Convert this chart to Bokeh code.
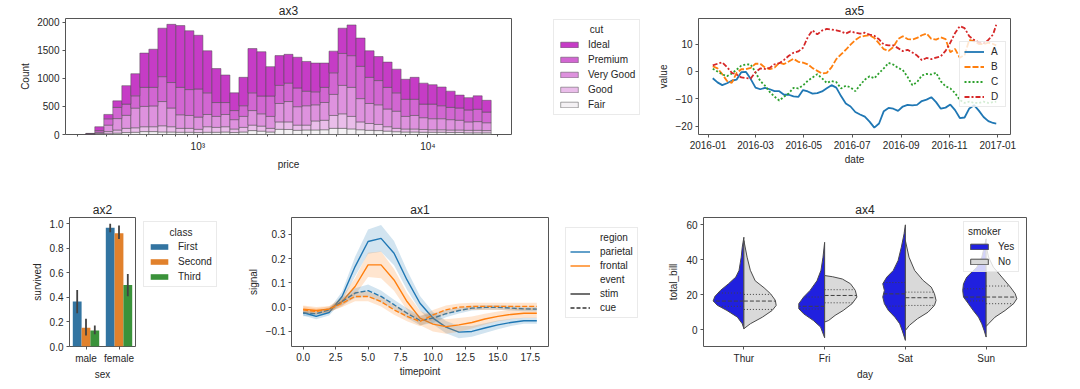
import numpy as np
import pandas as pd
from bokeh.plotting import figure
from bokeh.layouts import row, column
from bokeh.models import (Range1d, FixedTicker, CustomJSTickFormatter, Legend, LegendItem,
                          Label, DatetimeTickFormatter)
from bokeh.embed import file_html
from bokeh.resources import INLINE

FONT = "Liberation Sans"
TXT = "#262626"
SPINE = "#555555"

# ---------------- ax3 : diamonds price histogram (stacked by cut) ----------------
PRICE_MIN, PRICE_MAX, N_BINS = 326, 18823, 45
fair = [3, 8, 15, 25, 35, 40, 52, 52, 46, 45, 40, 40, 35, 40, 40, 45, 35, 45, 70, 60,
        45, 93, 90, 75, 81, 81, 85, 110, 110, 100, 85, 75, 70, 60, 50, 45, 45, 40, 40, 40,
        35, 35, 30, 30, 30]
good = [3, 12, 37, 55, 75, 80, 87, 87, 110, 94, 70, 70, 58, 99, 87, 94, 63, 82, 97, 90,
        65, 132, 135, 92, 86, 161, 169, 230, 259, 223, 140, 121, 109, 79, 60, 53, 53, 50, 45, 45,
        45, 45, 45, 45, 40]
very_good = [4, 20, 115, 204, 232, 350, 362, 371, 432, 334, 242, 230, 218, 218, 196, 218, 167, 196, 260, 219,
             213, 328, 363, 329, 346, 288, 317, 375, 507, 518, 415, 357, 351, 316, 305, 225, 242, 210, 197, 197,
             185, 174, 150, 155, 140]
premium = [5, 30, 113, 200, 200, 220, 340, 331, 444, 454, 489, 461, 501, 386, 247, 213, 162, 190, 316, 317,
           363, 323, 328, 334, 259, 231, 270, 385, 570, 565, 576, 467, 432, 386, 328, 305, 288, 242, 260, 231,
           219, 219, 213, 220, 190]
ideal = [5, 68, 78, 116, 329, 394, 611, 680, 864, 1038, 1102, 1049, 958, 750, 606, 491, 316, 507, 790, 790,
         524, 531, 514, 548, 531, 513, 433, 387, 450, 548, 504, 473, 428, 450, 422, 357, 392, 374, 346, 334,
         289, 230, 219, 240, 210]
CUTS = ["Ideal", "Premium", "Very Good", "Good", "Fair"]
CUT_COLORS = {"Ideal": "#c63cc6", "Premium": "#d266d2", "Very Good": "#de92de",
              "Good": "#eabdea", "Fair": "#f4f1f4"}

# ---------------- ax5 : four smoothed random walks (day offsets from 2016-01-01) ----------------
DAYS = [6, 12, 18, 24, 30, 36, 42, 48, 54, 60, 66, 72, 78, 84, 90, 96, 102, 108, 114, 120,
        126, 132, 138, 144, 150, 156, 162, 168, 174, 180, 186, 192, 198, 204, 210, 216, 222, 228, 234, 240,
        246, 252, 258, 264, 270, 276, 282, 288, 294, 300, 306, 312, 318, 324, 330, 336, 342, 348, 354, 360,
        364]
A = [-2.5, -4.0, -5.0, -4.3, -3.4, -3.0, -0.3, -0.2, -2.8, -5.9,
     -6.5, -6.0, -6.5, -7.2, -7.2, -8.5, -8.5, -9.1, -9.3, -6.8,
     -7.3, -8.1, -7.9, -7.3, -6.1, -5.0, -5.9, -9.0, -11.7, -12.8,
     -14.8, -15.7, -16.5, -18.3, -20.5, -19.0, -14.5, -13.3, -13.6, -14.4,
     -12.8, -12.2, -12.4, -12.2, -10.8, -10.3, -9.4, -11.2, -13.6, -13.2,
     -12.1, -14.1, -17.0, -16.8, -13.5, -12.3, -14.3, -16.6, -18.1, -18.8,
     -19.0]
B = [1.9, 1.1, -1.0, -3.5, -4.2, -0.6, 0.8, 0.8, 1.3, 2.8,
     2.8, 1.4, 0.8, 1.4, 3.1, 2.7, 3.6, 4.6, 3.5, 3.2,
     2.6, 1.2, 0.2, -0.8, -0.5, 1.5, 4.5, 6.2, 7.9, 9.8,
     11.4, 12.6, 13.0, 13.2, 12.2, 10.2, 8.1, 7.5, 8.9, 11.8,
     12.8, 11.8, 11.6, 12.2, 13.2, 13.8, 11.9, 11.6, 12.4, 11.8,
     7.0, 8.2, 5.0, 6.0, 11.5, 11.0, 10.0, 10.0, 10.5, 10.0,
     9.5]
C = [1.0, 0.0, -1.1, -1.7, -0.8, 0.6, 2.1, 2.6, 2.5, -0.3,
     -3.5, -5.2, -7.5, -9.2, -10.6, -9.2, -8.0, -6.0, -6.2, -5.1,
     -3.4, -2.2, -1.0, -2.5, -4.2, -3.5, -3.9, -6.2, -5.2, -5.8,
     -7.2, -5.0, -3.0, -1.8, -2.5, -0.6, 1.1, 3.1, 2.5, 1.3,
     0.5, -2.0, -5.0, -3.9, -1.5, -0.9, -1.1, -0.5, -3.6, -5.4,
     -6.2, -7.9, -10.4, -11.5, -11.0, -11.5, -11.5, -11.0, -11.5, -11.2,
     -11.0]
D = [2.2, 2.8, 3.3, 1.6, -0.5, -1.1, -2.2, -2.4, -2.6, -0.2,
     1.1, 0.9, 1.3, 2.6, 3.0, 4.2, 5.7, 6.8, 7.3, 8.6,
     12.5, 15.0, 13.5, 14.9, 15.5, 15.3, 15.0, 14.6, 13.8, 14.6,
     14.1, 13.8, 14.1, 13.4, 13.0, 11.7, 9.8, 9.5, 9.5, 8.5,
     7.4, 7.9, 6.9, 5.8, 4.1, 4.9, 4.5, 5.0, 5.5, 7.5,
     10.5, 14.0, 16.5, 15.8, 12.8, 11.5, 10.6, 10.3, 11.5, 13.5,
     17.0]
DATE_TICKS = ["2016-01-01", "2016-03-01", "2016-05-01", "2016-07-01", "2016-09-01", "2016-11-01", "2017-01-01"]

# ---------------- ax2 : titanic survival ----------------
SEX = ["male", "female"]
CLASSES = ["First", "Second", "Third"]
surv_first = [0.367, 0.966]
surv_second = [0.152, 0.922]
surv_third = [0.131, 0.500]
ci_first = [(0.27, 0.46), (0.93, 1.0)]
ci_second = [(0.09, 0.225), (0.875, 0.985)]
ci_third = [(0.10, 0.17), (0.41, 0.59)]
CLASS_COLORS = ["#3274a1", "#e1812c", "#3a923a"]

# ---------------- ax1 : fmri signal ----------------
TIMEPOINTS = list(range(19))
parietal_stim = [-0.022, -0.038, -0.022, 0.044, 0.167, 0.270, 0.283, 0.222, 0.112, 0.016, -0.045, -0.082,
                 -0.103, -0.100, -0.086, -0.073, -0.063, -0.056, -0.056]
frontal_stim = [-0.008, -0.014, -0.008, 0.023, 0.085, 0.174, 0.174, 0.112, 0.023, -0.045, -0.070, -0.080,
                -0.073, -0.063, -0.049, -0.038, -0.030, -0.025, -0.025]
parietal_cue = [-0.025, -0.027, -0.011, 0.023, 0.058, 0.068, 0.044, 0.010, -0.025, -0.055, -0.045, -0.027,
                -0.014, -0.004, -0.001, -0.001, -0.004, -0.007, -0.008]
frontal_cue = [-0.011, -0.018, -0.008, 0.016, 0.044, 0.044, 0.023, -0.011, -0.038, -0.059, -0.032, -0.011,
               0.000, 0.003, 0.003, 0.003, 0.003, 0.003, 0.003]
parietal_stim_ci = [0.012, 0.012, 0.012, 0.02, 0.04, 0.05, 0.055, 0.05, 0.04, 0.03, 0.025, 0.025, 0.025,
                    0.022, 0.02, 0.018, 0.015, 0.012, 0.012]
frontal_stim_ci = [0.015, 0.015, 0.012, 0.02, 0.035, 0.05, 0.055, 0.045, 0.035, 0.03, 0.03, 0.03, 0.028,
                   0.025, 0.022, 0.02, 0.02, 0.02, 0.02]
parietal_cue_ci = [0.012, 0.01, 0.01, 0.015, 0.02, 0.025, 0.025, 0.02, 0.02, 0.02, 0.02, 0.015, 0.012,
                   0.01, 0.01, 0.01, 0.01, 0.01, 0.01]
frontal_cue_ci = [0.015, 0.012, 0.012, 0.015, 0.02, 0.02, 0.02, 0.02, 0.02, 0.02, 0.02, 0.018, 0.015,
                  0.015, 0.015, 0.015, 0.015, 0.015, 0.015]

# ---------------- ax4 : tips split violins ----------------
DAYS_CAT = ["Thur", "Fri", "Sat", "Sun"]
thur_yes_y = [0.6, 3.4, 7.2, 11.0, 14.0, 16.5, 19.0, 22.5, 26.3, 30.1, 33.9, 41.5, 47.2, 52.9]
thur_yes_w = [0.0, 0.02, 0.08, 0.21, 0.33, 0.38, 0.36, 0.29, 0.19, 0.10, 0.06, 0.033, 0.02, 0.0]
thur_no_y = [0.6, 3.4, 7.2, 11.0, 13.9, 16.8, 20.6, 24.0, 28.0, 34.0, 41.5, 51.0]
thur_no_w = [0.0, 0.08, 0.23, 0.35, 0.40, 0.39, 0.33, 0.25, 0.14, 0.08, 0.04, 0.0]
fri_yes_y = [-4.6, 1.5, 5.3, 9.1, 12.0, 14.9, 18.7, 22.5, 28.0, 34.0, 41.5, 50.0]
fri_yes_w = [0.0, 0.05, 0.14, 0.26, 0.32, 0.32, 0.26, 0.18, 0.095, 0.045, 0.02, 0.0]
fri_no_y = [4.4, 5.3, 8.2, 11.0, 14.9, 18.7, 22.5, 26.3, 29.0, 30.3, 31.0]
fri_no_w = [0.0, 0.05, 0.13, 0.23, 0.34, 0.40, 0.38, 0.32, 0.22, 0.10, 0.0]
sat_yes_y = [-6.1, -0.4, 3.4, 7.2, 11.0, 14.9, 18.7, 22.5, 26.3, 30.1, 33.9, 39.6, 47.2, 54.9, 60.0]
sat_yes_w = [0.0, 0.04, 0.07, 0.13, 0.21, 0.26, 0.28, 0.26, 0.28, 0.23, 0.15, 0.09, 0.05, 0.016, 0.0]
sat_no_y = [-0.4, 2.5, 6.3, 10.0, 13.9, 16.8, 20.6, 24.4, 28.2, 33.9, 41.5, 51.0]
sat_no_w = [0.0, 0.05, 0.15, 0.28, 0.36, 0.38, 0.36, 0.32, 0.22, 0.115, 0.045, 0.0]
sun_yes_y = [-4.2, -0.4, 3.4, 7.2, 11.0, 14.9, 18.7, 22.5, 26.3, 30.1, 35.8, 41.5, 47.0, 52.0]
sun_yes_w = [0.0, 0.025, 0.054, 0.095, 0.16, 0.22, 0.28, 0.29, 0.28, 0.24, 0.115, 0.054, 0.025, 0.0]
sun_no_y = [1.9, 3.4, 7.2, 11.0, 14.9, 17.7, 20.6, 24.4, 30.1, 35.8, 41.5, 48.0]
sun_no_w = [0.0, 0.03, 0.11, 0.235, 0.34, 0.38, 0.36, 0.30, 0.195, 0.09, 0.03, 0.0]
thur_yes_q = [13.4, 16.4, 21.0]
thur_no_q = [11.6, 16.4, 20.2]
fri_yes_q = [11.8, 13.4, 18.7]
fri_no_q = [15.4, 19.6, 22.9]
sat_yes_q = [13.5, 20.5, 27.0]
sat_no_q = [13.9, 18.3, 21.5]
sun_yes_q = [16.5, 18.7, 23.4]
sun_no_q = [14.9, 18.7, 25.0]
SMOKER_COLORS = {"Yes": "#2020df", "No": "#d9d9d9"}


# ---------------- helpers ----------------
def make_fig(w, h, left, right, top, bottom, title, **kw):
    p = figure(width=w, height=h, min_border_left=left, min_border_right=right,
               min_border_top=top, min_border_bottom=bottom, title=title,
               output_backend="svg", toolbar_location=None, **kw)
    p.title.align = "center"
    p.title.text_font = FONT
    p.title.text_font_size = "12px"
    p.title.text_font_style = "normal"
    p.title.text_color = TXT
    p.title.standoff = 2
    p.outline_line_color = SPINE
    p.outline_line_width = 1
    p.xgrid.visible = False
    p.ygrid.visible = False
    p.border_fill_color = "white"
    p.background_fill_color = "white"
    for ax in (p.xaxis[0], p.yaxis[0]):
        ax.axis_line_color = None
        ax.major_tick_line_color = SPINE
        ax.major_tick_line_width = 1
        ax.major_tick_out = 3
        ax.major_tick_in = 0
        ax.minor_tick_line_color = None
        ax.major_label_text_font = FONT
        ax.major_label_text_font_size = "10px"
        ax.major_label_text_color = TXT
        ax.major_label_standoff = 3
        ax.axis_label_text_font = FONT
        ax.axis_label_text_font_size = "10px"
        ax.axis_label_text_font_style = "normal"
        ax.axis_label_text_color = TXT
        ax.axis_label_standoff = 4
    return p


def legend_fig(w, h):
    # a plain panel that only carries a legend (its frame is aligned with its neighbours)
    p = figure(width=w, height=h, x_range=Range1d(0, 1), y_range=Range1d(0, 1),
               min_border_left=0, min_border_right=0, min_border_top=0, min_border_bottom=0,
               x_axis_location=None, y_axis_location=None,
               output_backend="svg", toolbar_location=None)
    p.outline_line_color = None
    p.xgrid.visible = False
    p.ygrid.visible = False
    p.border_fill_color = "white"
    p.background_fill_color = "white"
    return p


def make_legend(items, x, y, glyph_w=22, glyph_h=7, spacing=4, title=None, standoff=8,
                hide_title=True, bg_alpha=0.0):
    leg = Legend(items=items, location=(x, y), orientation="vertical",
                 label_text_font=FONT, label_text_font_size="10px", label_text_color=TXT,
                 glyph_width=glyph_w, glyph_height=glyph_h, label_standoff=standoff,
                 label_height=10, label_width=10, spacing=spacing, padding=4, margin=0,
                 border_line_color="#d6d6d6", border_line_width=1,
                 background_fill_color="white", background_fill_alpha=bg_alpha)
    if title:
        leg.title = title
        leg.title_text_font = FONT
        leg.title_text_font_size = "10px"
        leg.title_text_font_style = "normal"
        leg.title_text_color = TXT
        leg.title_text_alpha = 0 if hide_title else 1
        leg.title_standoff = 4
    return leg


def legend_title(p, text, x, y):
    p.add_layout(Label(x=x, y=y, x_units="screen", y_units="screen", text=text,
                       text_align="center", text_baseline="middle", text_font=FONT,
                       text_font_size="10px", text_color=TXT))


def num_fmt(dec):
    return CustomJSTickFormatter(code="return tick.toFixed(%d).replace('-', '\\u2212');" % dec)


H1, H2 = 183, 206
# legend keys live outside the 0..1 view of the legend panels (only their styles are used)
KX, KY = [2.0, 3.0], [2.0, 2.0]

# ================= ax3 =================
p3 = make_fig(541, H1, 65, 30, 0, 48, "ax3", x_axis_type="log",
              x_range=Range1d(10 ** 2.425, 10 ** 4.363), y_range=Range1d(0, 2069))
edges = np.logspace(np.log10(PRICE_MIN), np.log10(PRICE_MAX), N_BINS + 1)
counts = {"Fair": fair, "Good": good, "Very Good": very_good, "Premium": premium, "Ideal": ideal}
base = np.zeros(N_BINS)
for cut in ["Fair", "Good", "Very Good", "Premium", "Ideal"]:
    c = np.array(counts[cut], dtype=float)
    p3.quad(left=edges[:-1], right=edges[1:], bottom=base, top=base + c,
            fill_color=CUT_COLORS[cut], line_color="#4d4d4d", line_width=0.5)
    base = base + c
minor = [m * 10 ** e for e in (2, 3, 4) for m in range(2, 10) if 262 < m * 10 ** e < 23000]
p3.xaxis[0].ticker = FixedTicker(ticks=[1000, 10000], minor_ticks=minor)
p3.xaxis[0].minor_tick_line_color = SPINE
p3.xaxis[0].minor_tick_out = 2
p3.xaxis[0].minor_tick_in = 0
p3.xaxis[0].formatter = CustomJSTickFormatter(code="""
const sup = ['\\u2070','\\u00b9','\\u00b2','\\u00b3','\\u2074','\\u2075','\\u2076','\\u2077','\\u2078','\\u2079'];
const e = Math.round(Math.log10(tick));
return '10' + String(e).split('').map(c => sup[+c]).join('');
""")
p3.yaxis[0].ticker = FixedTicker(ticks=[0, 500, 1000, 1500, 2000])
p3.xaxis[0].axis_label = "price"
p3.yaxis[0].axis_label = "Count"
p3.yaxis[0].axis_label_standoff = 3

l3 = legend_fig(109, H1)
legend_title(l3, "cut", 55, 104.7)
items3 = []
for cut in CUTS:
    r = l3.quad(left=[2], right=[3], bottom=[2], top=[3], fill_color=CUT_COLORS[cut],
                line_color="#4d4d4d", line_width=0.5)
    items3.append(LegendItem(label=cut, renderers=[r]))
l3.add_layout(make_legend(items3, 12, 19, title="cut"))

# ================= ax5 =================
ms = lambda s: pd.Timestamp(s).value // 10 ** 6
p5 = make_fig(422, H1, 48, 62, 0, 49, "ax5", x_axis_type="datetime",
              x_range=Range1d(ms("2015-12-20"), ms("2017-01-17")), y_range=Range1d(-23.0, 19.3))
dates = pd.Timestamp("2016-01-01") + pd.to_timedelta(DAYS, unit="D")
styles5 = [("A", A, "#1f77b4", "solid"), ("B", B, "#ff7f0e", "6 2"),
           ("C", C, "#2ca02c", "2 2"), ("D", D, "#d62728", "5 2 2 2")]
items5 = []
for name, vals, col, dash in styles5:
    r = p5.line(dates, vals, line_color=col, line_width=1.8, line_dash=dash)
    items5.append(LegendItem(label=name, renderers=[r]))
p5.xaxis[0].ticker = FixedTicker(ticks=[ms(d) for d in DATE_TICKS])
p5.xaxis[0].formatter = DatetimeTickFormatter(days="%Y-%m", months="%Y-%m", years="%Y-%m")
p5.yaxis[0].ticker = FixedTicker(ticks=[-20, -10, 0, 10])
p5.yaxis[0].formatter = num_fmt(0)
p5.xaxis[0].axis_label = "date"
p5.yaxis[0].axis_label = "value"
p5.xaxis[0].axis_label_standoff = 2
p5.add_layout(make_legend(items5, 261, 27, glyph_w=20, glyph_h=7, spacing=4, standoff=7, bg_alpha=0.8))

# ================= ax2 =================
p2 = make_fig(139, H2, 69, 4, 34, 43, "ax2", x_range=Range1d(-0.5, 1.5), y_range=Range1d(0, 1.05))
offs = [-0.8 / 3, 0.0, 0.8 / 3]
for k, (vals, ci, col) in enumerate(zip([surv_first, surv_second, surv_third],
                                        [ci_first, ci_second, ci_third], CLASS_COLORS)):
    xs = np.arange(len(SEX)) + offs[k]
    p2.vbar(x=xs, top=vals, width=0.8 / 3, bottom=0, fill_color=col, line_color=None)
    p2.segment(x0=xs, x1=xs, y0=[c[0] for c in ci], y1=[c[1] for c in ci],
               line_color="#424242", line_width=1.8)
p2.xaxis[0].ticker = FixedTicker(ticks=[0, 1])
p2.xaxis[0].major_label_overrides = {0: "male", 1: "female"}
p2.yaxis[0].ticker = FixedTicker(ticks=[0.0, 0.2, 0.4, 0.6, 0.8, 1.0])
p2.yaxis[0].formatter = num_fmt(1)
p2.xaxis[0].axis_label = "sex"
p2.yaxis[0].axis_label = "survived"
p2.xaxis[0].axis_label_standoff = 2

l2 = legend_fig(101, H2)
legend_title(l2, "class", 41.5, 114.3)
items2 = []
for cls, col in zip(CLASSES, CLASS_COLORS):
    r = l2.quad(left=[2], right=[3], bottom=[2], top=[3], fill_color=col, line_color=None)
    items2.append(LegendItem(label=cls, renderers=[r]))
l2.add_layout(make_legend(items2, 4, 59, title="class"))

# ================= ax1 =================
p1 = make_fig(318, H2, 51, 10, 34, 43, "ax1", x_range=Range1d(-0.9, 18.9), y_range=Range1d(-0.162, 0.369))
BLUE, ORANGE = "#1f77b4", "#ff7f0e"
for mean, ci, col, dash in [(parietal_stim, parietal_stim_ci, BLUE, "solid"),
                            (frontal_stim, frontal_stim_ci, ORANGE, "solid"),
                            (parietal_cue, parietal_cue_ci, BLUE, "5 2"),
                            (frontal_cue, frontal_cue_ci, ORANGE, "5 2")]:
    m = np.array(mean)
    c = np.array(ci)
    p1.varea(x=TIMEPOINTS, y1=m - c, y2=m + c, fill_color=col, fill_alpha=0.2)
    p1.line(TIMEPOINTS, mean, line_color=col, line_width=1.4, line_dash=dash)
p1.xaxis[0].ticker = FixedTicker(ticks=[0, 2.5, 5, 7.5, 10, 12.5, 15, 17.5])
p1.xaxis[0].formatter = num_fmt(1)
p1.yaxis[0].ticker = FixedTicker(ticks=[-0.1, 0.0, 0.1, 0.2, 0.3])
p1.yaxis[0].formatter = num_fmt(1)
p1.xaxis[0].axis_label = "timepoint"
p1.yaxis[0].axis_label = "signal"
p1.xaxis[0].axis_label_standoff = 2

l1 = legend_fig(94, H2)
blank = l1.line(x=KX, y=KY, line_alpha=0)
k_par = l1.line(x=KX, y=KY, line_color=BLUE, line_width=1.4)
k_fro = l1.line(x=KX, y=KY, line_color=ORANGE, line_width=1.4)
k_sti = l1.line(x=KX, y=KY, line_color="#333333", line_width=1.4)
k_cue = l1.line(x=KX, y=KY, line_color="#333333", line_width=1.4, line_dash="4 2")
items1 = [LegendItem(label="region", renderers=[blank]),
          LegendItem(label="parietal", renderers=[k_par]),
          LegendItem(label="frontal", renderers=[k_fro]),
          LegendItem(label="event", renderers=[blank]),
          LegendItem(label="stim", renderers=[k_sti]),
          LegendItem(label="cue", renderers=[k_cue])]
l1.add_layout(make_legend(items1, 7, 28, glyph_w=20, glyph_h=7, spacing=3, standoff=10))

# ================= ax4 =================
p4 = make_fig(420, H2, 51, 46, 34, 43, "ax4", x_range=Range1d(-0.5, 3.5), y_range=Range1d(-9.6, 64.2))
violins = [(thur_yes_y, thur_yes_w, thur_yes_q, thur_no_y, thur_no_w, thur_no_q),
           (fri_yes_y, fri_yes_w, fri_yes_q, fri_no_y, fri_no_w, fri_no_q),
           (sat_yes_y, sat_yes_w, sat_yes_q, sat_no_y, sat_no_w, sat_no_q),
           (sun_yes_y, sun_yes_w, sun_yes_q, sun_no_y, sun_no_w, sun_no_q)]
first_r = {}
for i, (yy, yw, yq, ny, nw, nq) in enumerate(violins):
    for side, ys, ws, qs, key in [(-1, yy, yw, yq, "Yes"), (1, ny, nw, nq, "No")]:
        ys = list(ys)
        ws = list(ws)
        px = [i + side * w for w in ws] + [i, i]
        py = ys + [ys[-1], ys[0]]
        r = p4.patch(px, py, fill_color=SMOKER_COLORS[key], line_color="#4a4a4a", line_width=1)
        first_r.setdefault(key, r)
        for j, q in enumerate(qs):
            wq = float(np.interp(q, ys, ws))
            p4.segment(x0=[i], x1=[i + side * wq], y0=[q], y1=[q], line_color="#404040",
                       line_width=1, line_dash="4 2" if j == 1 else "1 2")
p4.xaxis[0].ticker = FixedTicker(ticks=[0, 1, 2, 3])
p4.xaxis[0].major_label_overrides = {i: d for i, d in enumerate(DAYS_CAT)}
p4.yaxis[0].ticker = FixedTicker(ticks=[0, 20, 40, 60])
p4.xaxis[0].axis_label = "day"
p4.yaxis[0].axis_label = "total_bill"
p4.xaxis[0].axis_label_standoff = 2
p4.add_layout(make_legend([LegendItem(label="Yes", renderers=[first_r["Yes"]]),
                           LegendItem(label="No", renderers=[first_r["No"]])], 260, 74,
                          title="smoker", hide_title=False, bg_alpha=0.8))

layout = column(row(p3, l3, p5), row(p2, l2, p1, l1, p4))
open("out.html", "w", encoding="utf-8").write(file_html(layout, INLINE))
